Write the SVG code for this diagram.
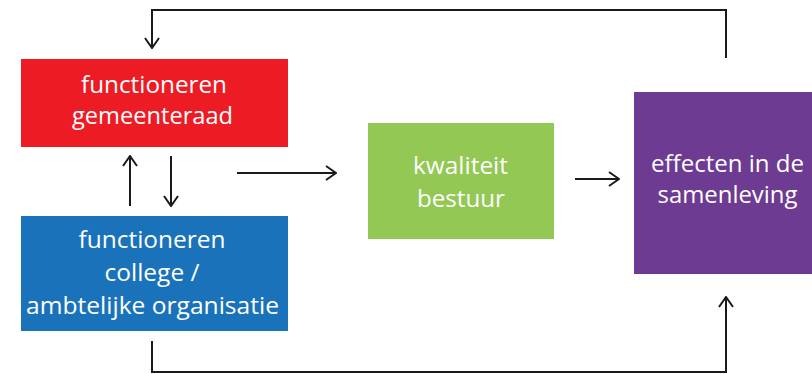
<svg xmlns="http://www.w3.org/2000/svg" width="812" height="374" viewBox="0 0 812 374">
  <style>
    .box-text { font-family: "Open Sans", "Noto Sans", sans-serif; font-size: 24px; fill: #ffffff; text-anchor: middle; }
    .link { fill: none; stroke: #1a1a1a; stroke-width: 2; }
  </style>
  <defs>
    <marker id="arrow" viewBox="0 0 12 16" refX="11" refY="8" markerWidth="12" markerHeight="16" markerUnits="userSpaceOnUse" orient="auto">
      <path d="M1,1 L11,8 L1,15" fill="none" stroke="#1a1a1a" stroke-width="2"/>
    </marker>
  </defs>
  <rect width="812" height="374" fill="#ffffff"/>

  <g id="gemeenteraad">
    <rect x="21" y="59" width="267" height="88" fill="#ED1C24"/>
    <text class="box-text" x="154" y="93" textLength="146" lengthAdjust="spacingAndGlyphs">functioneren</text>
    <text class="box-text" x="152.5" y="123.5" textLength="161" lengthAdjust="spacingAndGlyphs">gemeenteraad</text>
  </g>

  <g id="college">
    <rect x="21" y="216" width="267" height="115" fill="#1A72BB"/>
    <text class="box-text" x="152" y="248" textLength="147" lengthAdjust="spacingAndGlyphs">functioneren</text>
    <text class="box-text" x="152" y="281" textLength="95" lengthAdjust="spacingAndGlyphs">college /</text>
    <text class="box-text" x="152.5" y="314" textLength="253" lengthAdjust="spacingAndGlyphs">ambtelijke organisatie</text>
  </g>

  <g id="kwaliteit">
    <rect x="368" y="123" width="186" height="116" fill="#92C853"/>
    <text class="box-text" x="460.5" y="174" textLength="95" lengthAdjust="spacingAndGlyphs">kwaliteit</text>
    <text class="box-text" x="461" y="207" textLength="88" lengthAdjust="spacingAndGlyphs">bestuur</text>
  </g>

  <g id="effecten">
    <rect x="634" y="92" width="188" height="182" fill="#6E3B92"/>
    <text class="box-text" x="727.5" y="171.5" textLength="153" lengthAdjust="spacingAndGlyphs">effecten in de</text>
    <text class="box-text" x="727.5" y="203" textLength="140" lengthAdjust="spacingAndGlyphs">samenleving</text>
  </g>

  <g id="connectors">
    <path class="link" d="M130,206 L130,156" marker-end="url(#arrow)"/>
    <path class="link" d="M171,156 L171,206" marker-end="url(#arrow)"/>
    <path class="link" d="M237,173 L336,173" marker-end="url(#arrow)"/>
    <path class="link" d="M575,179 L619,179" marker-end="url(#arrow)"/>
    <path class="link" d="M726,58 L726,10 L152,10 L152,48" marker-end="url(#arrow)"/>
    <path class="link" d="M152,341 L152,372 L726,372 L726,297" marker-end="url(#arrow)"/>
  </g>
</svg>
